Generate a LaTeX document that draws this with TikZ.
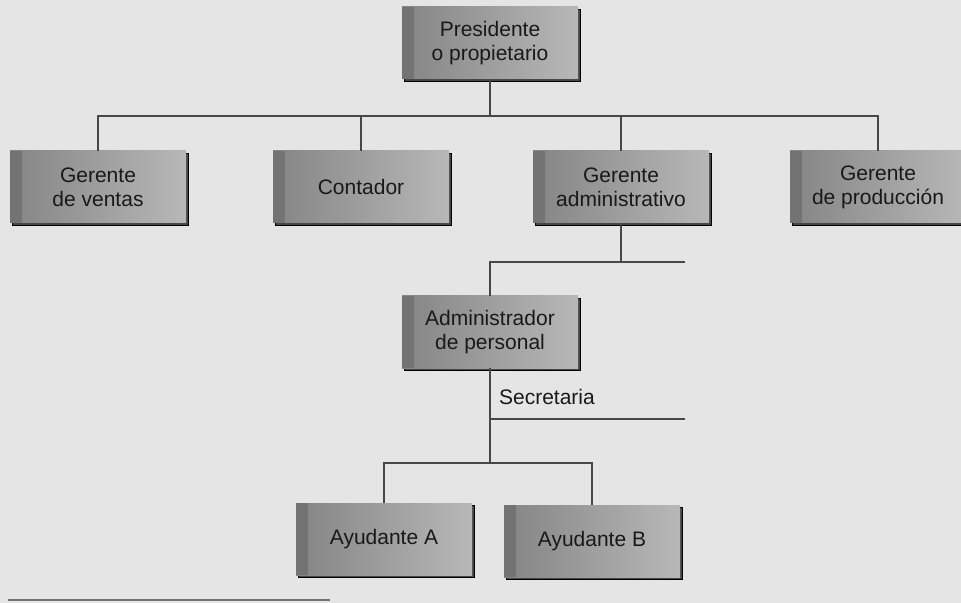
\documentclass[tikz,border=0pt]{standalone}
\usepackage{fontspec}
\setmainfont{Liberation Sans}
\usetikzlibrary{shadows}

\begin{document}
\begin{tikzpicture}[
		x=0.5pt,y=-0.5pt,
		puesto/.style={rectangle,minimum width=88pt,minimum height=36pt,align=center,
			left color=black!48,right color=black!28,text=black!90,
			font=\fontsize{10.5}{12}\selectfont,
			copy shadow={shadow xshift=1.4pt,shadow yshift=-1.4pt,fill=black!72},
			path picture={\fill[black!55] (path picture bounding box.south west) rectangle ([xshift=6pt]path picture bounding box.north west);}},
		linea/.style={draw=black!72,line width=1.25pt},
		etiqueta/.style={text=black!90,font=\fontsize{10.5}{12}\selectfont}
		]
		\fill[black!10] (0,0) rectangle (961,603);
		\useasboundingbox (0,0) rectangle (961,603);
		% puestos
		\node[puesto] (pres) at (490,43) {Presidente\\o propietario};
		\node[puesto] (ventas) at (98,187) {Gerente\\de ventas};
		\node[puesto] (conta) at (361,187) {Contador};
		\node[puesto] (admin) at (621,187) {Gerente\\administrativo};
		\node[puesto] (prod) at (878,187) {Gerente\\de producción};
		\node[puesto] (personal) at (490,332) {Administrador\\de personal};
		\node[puesto] (ayA) at (384,539) {Ayudante A};
		\node[puesto] (ayB) at (592,541) {Ayudante B};
		% lineas
		\coordinate (bus) at (0,116);
		\coordinate (rama) at (685,262);
		\coordinate (secre) at (685,419);
		\coordinate (ayudas) at (0,463);
		\draw[linea] (pres.south) -- (pres.south |- bus);
		\draw[linea] (ventas.north) -- (ventas.north |- bus) -- (prod.north |- bus) -- (prod.north);
		\draw[linea] (conta.north) -- (conta.north |- bus);
		\draw[linea] (admin.north) -- (admin.north |- bus);
		\draw[linea] (admin.south) -- (admin.south |- rama);
		\draw[linea] (rama) -- (personal.north |- rama) -- (personal.north);
		\draw[linea] (personal.south) -- (personal.south |- ayudas);
		\draw[linea] (secre) -- (personal.south |- secre);
		\draw[linea] (ayA.north) -- (ayA.north |- ayudas) -- (ayB.north |- ayudas) -- (ayB.north);
		\node[etiqueta,anchor=base west] (secretaria) at (492,404) {Secretaria};
		\draw[black!55,line width=0.8pt] (8,600) -- (330,600);
\end{tikzpicture}
\end{document}
